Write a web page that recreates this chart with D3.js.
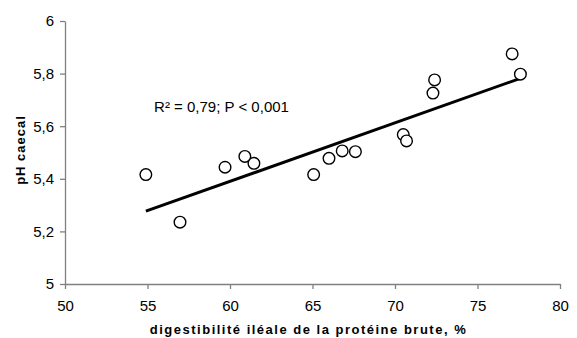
<!DOCTYPE html>
<html>
<head>
<meta charset="utf-8">
<script src="https://cdn.jsdelivr.net/npm/d3@7"></script>
<style>
  body { margin: 0; background: #fff; }
  svg { display: block; font-family: "Liberation Sans", Arial, sans-serif; }
</style>
</head>
<body>
<svg id="chart"></svg>
<script>
// digestibilité iléale (%) vs pH caecal
const digestibility = [54.9, 56.97, 59.7, 60.9, 61.45, 65.07, 66.0, 66.8, 67.6, 70.5, 70.7, 72.3, 72.4, 77.1, 77.6];
const phCaecal = [5.416, 5.235, 5.444, 5.485, 5.459, 5.416, 5.478, 5.506, 5.503, 5.568, 5.544, 5.726, 5.776, 5.875, 5.798];
// trend line
const fitX = [54.9, 77.6];
const fitY = [5.277, 5.782];
const xTicks = [50, 55, 60, 65, 70, 75, 80];
const yTicks = [5, 5.2, 5.4, 5.6, 5.8, 6];
const statLabel = "R² = 0,79; P < 0,001";
const xTitle = "digestibilité iléale de la protéine brute, %";
const yTitle = "pH caecal";

const width = 577, height = 338;
const margin = { top: 21, right: 17, bottom: 54, left: 65 };
const w = width - margin.left - margin.right;
const h = height - margin.top - margin.bottom;

const svgEl = d3.select("#chart").attr("width", width).attr("height", height);
const svg = svgEl.append("g").attr("transform", `translate(${margin.left},${margin.top})`);

const xScale = d3.scaleLinear().domain([50, 80]).range([0, w]);
const yScale = d3.scaleLinear().domain([5, 6]).range([h, 0]);

const fmt = (v) => String(+v.toFixed(1)).replace(".", ",");

// X axis
const xAxisGroup = svg.append("g")
  .attr("transform", `translate(0,${h})`)
  .call(d3.axisBottom(xScale).tickValues(xTicks).tickSize(5).tickSizeOuter(0).tickFormat((d) => d));
xAxisGroup.select(".domain").attr("stroke", "#808080").attr("stroke-width", 1.3);
xAxisGroup.selectAll("line").attr("stroke", "#808080").attr("stroke-width", 1.3);
xAxisGroup.selectAll("text")
  .attr("font-size", 15).attr("fill", "#000")
  .attr("font-family", "Liberation Sans, Arial, sans-serif")
  .attr("y", 16);

// Y axis
const yAxisGroup = svg.append("g")
  .call(d3.axisLeft(yScale).tickValues(yTicks).tickSize(5).tickSizeOuter(0).tickFormat(fmt));
yAxisGroup.select(".domain").attr("stroke", "#808080").attr("stroke-width", 1.3);
yAxisGroup.selectAll("line").attr("stroke", "#808080").attr("stroke-width", 1.3);
yAxisGroup.selectAll("text")
  .attr("font-size", 15).attr("fill", "#000")
  .attr("font-family", "Liberation Sans, Arial, sans-serif")
  .attr("x", -11);

// Trend line
const line = d3.line().x((d) => xScale(d[0])).y((d) => yScale(d[1]));
svg.append("path")
  .datum(d3.zip(fitX, fitY))
  .attr("fill", "none")
  .attr("stroke", "#000")
  .attr("stroke-width", 3)
  .attr("d", line);

// Points
svg.selectAll(".pt")
  .data(d3.zip(digestibility, phCaecal))
  .enter()
  .append("circle")
  .attr("class", "pt")
  .attr("cx", (d) => xScale(d[0]))
  .attr("cy", (d) => yScale(d[1]))
  .attr("r", 5.8)
  .attr("fill", "#fff")
  .attr("stroke", "#000")
  .attr("stroke-width", 1.4);

// Stat label
svg.append("text")
  .attr("x", xScale(55.4))
  .attr("y", yScale(5.654))
  .attr("font-size", 15)
  .text(statLabel);

// Axis titles
svg.append("text")
  .attr("x", w / 2 - 4)
  .attr("y", h + 50)
  .attr("text-anchor", "middle")
  .attr("font-size", 13)
  .attr("font-weight", "bold")
  .attr("letter-spacing", 1.5)
  .text(xTitle);

svg.append("text")
  .attr("transform", `translate(${25 - margin.left},${150 - margin.top}) rotate(-90)`)
  .attr("text-anchor", "middle")
  .attr("font-size", 13)
  .attr("font-weight", "bold")
  .attr("letter-spacing", 1)
  .text(yTitle);
</script>
</body>
</html>
